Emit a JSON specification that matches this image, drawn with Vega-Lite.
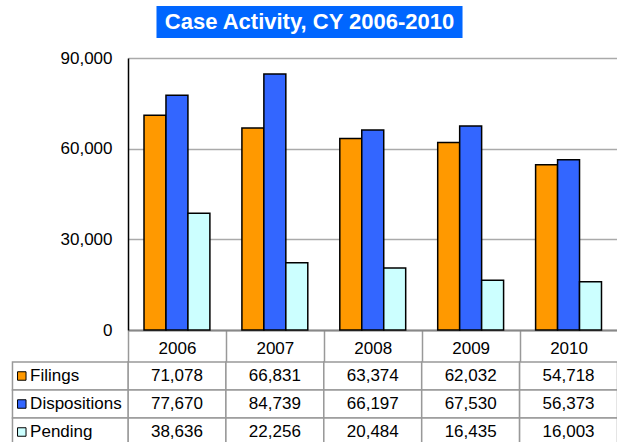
{
  "$schema": "https://vega.github.io/schema/vega-lite/v6.json",
  "padding": {"left": 11, "top": 6, "right": 0, "bottom": 0},
  "background": "white",
  "bounds": "flush",
  "spacing": 20,
  "config": {"view": {"stroke": null}, "font": "Liberation Sans"},
  "datasets": {
    "title": [{"t": "Case Activity, CY 2006-2010"}],
    "series": [{"series": "Filings"}, {"series": "Dispositions"}, {"series": "Pending"}],
    "d": [
      {"series": "Filings", "year": "2006", "value": 71078},
      {"series": "Filings", "year": "2007", "value": 66831},
      {"series": "Filings", "year": "2008", "value": 63374},
      {"series": "Filings", "year": "2009", "value": 62032},
      {"series": "Filings", "year": "2010", "value": 54718},
      {"series": "Dispositions", "year": "2006", "value": 77670},
      {"series": "Dispositions", "year": "2007", "value": 84739},
      {"series": "Dispositions", "year": "2008", "value": 66197},
      {"series": "Dispositions", "year": "2009", "value": 67530},
      {"series": "Dispositions", "year": "2010", "value": 56373},
      {"series": "Pending", "year": "2006", "value": 38636},
      {"series": "Pending", "year": "2007", "value": 22256},
      {"series": "Pending", "year": "2008", "value": 20484},
      {"series": "Pending", "year": "2009", "value": 16435},
      {"series": "Pending", "year": "2010", "value": 16003}
    ]
  },
  "resolve": {"scale": {"x": "independent", "y": "independent", "color": "independent"}},
  "vconcat": [
    {
      "width": 489.5,
      "height": 32,
      "data": {"name": "title"},
      "layer": [
        {
          "mark": {"type": "rect", "color": "#0066ff"},
          "encoding": {
            "x": {"datum": 0.0582, "type": "quantitative", "scale": {"domain": [0, 1], "nice": false, "zero": false}, "axis": null},
            "x2": {"datum": 0.6834}
          }
        },
        {
          "mark": {"type": "text", "color": "white", "fontWeight": "bold", "fontSize": 22, "font": "Liberation Sans", "baseline": "middle"},
          "encoding": {
            "x": {"datum": 0.3708, "type": "quantitative"},
            "text": {"field": "t"}
          }
        }
      ]
    },
    {
      "bounds": "flush",
      "spacing": 32,
      "resolve": {"scale": {"x": "independent", "y": "independent", "color": "independent"}},
      "vconcat": [
        {
          "width": 489.5,
          "height": 272,
          "data": {"name": "d"},
          "mark": {"type": "bar", "stroke": "#000", "strokeWidth": 1.5},
          "encoding": {
            "x": {
              "field": "year", "type": "ordinal",
              "scale": {"paddingInner": 0.327, "paddingOuter": 0.1635},
              "axis": {
                "title": null, "labelAngle": 0, "labelFontSize": 17, "labelColor": "#000", "labelFont": "Liberation Sans",
                "labelBaseline": "middle", "labelPadding": -14, "labelOffset": 48.95,
                "tickSize": 32, "tickColor": "#999", "tickWidth": 1.5, "tickOffset": -48.95,
                "domainColor": "#888", "domainWidth": 2
              }
            },
            "xOffset": {"field": "series", "scale": {"domain": ["Filings", "Dispositions", "Pending"], "paddingInner": 0, "paddingOuter": 0}},
            "y": {
              "field": "value", "type": "quantitative",
              "scale": {"domain": [0, 90000], "nice": false},
              "axis": {
                "title": null, "values": [0, 30000, 60000, 90000], "format": ",d",
                "labelFontSize": 17, "labelColor": "#000", "labelFont": "Liberation Sans", "labelPadding": 16,
                "ticks": false, "domainColor": "#000", "domainWidth": 1.5,
                "gridColor": "#aaa", "gridWidth": 1.5
              }
            },
            "color": {
              "field": "series",
              "scale": {"domain": ["Filings", "Dispositions", "Pending"], "range": ["#ff9900", "#3366ff", "#ccffff"]},
              "legend": null
            }
          }
        },
        {
          "width": 489.5,
          "height": 84,
          "resolve": {"scale": {"x": "independent"}},
          "layer": [
            {
              "data": {"name": "d"},
              "mark": {"type": "rect", "fill": "white", "stroke": "#999", "strokeWidth": 1.5},
              "encoding": {
                "x": {"field": "year", "type": "ordinal", "scale": {"paddingInner": 0, "paddingOuter": 0}, "axis": null},
                "y": {"field": "series", "type": "ordinal", "scale": {"domain": ["Filings", "Dispositions", "Pending"], "paddingInner": 0, "paddingOuter": 0}, "axis": null}
              }
            },
            {
              "data": {"name": "d"},
              "mark": {"type": "text", "fontSize": 17, "font": "Liberation Sans", "color": "#000", "baseline": "middle"},
              "encoding": {
                "x": {"field": "year", "type": "ordinal", "axis": null},
                "y": {"field": "series", "type": "ordinal"},
                "text": {"field": "value", "format": ",d"}
              }
            },
            {
              "data": {"name": "series"},
              "mark": {"type": "rect", "fill": "white", "stroke": "#999", "strokeWidth": 1.5},
              "encoding": {
                "x": {"datum": -0.236, "type": "quantitative", "scale": {"domain": [0, 1], "nice": false, "zero": false}, "axis": null},
                "x2": {"datum": 0},
                "y": {"field": "series", "type": "ordinal"}
              }
            },
            {
              "data": {"name": "series"},
              "mark": {"type": "point", "shape": "square", "size": 72, "filled": true, "opacity": 1, "stroke": "#000", "strokeWidth": 1},
              "encoding": {
                "x": {"datum": -0.217, "type": "quantitative", "scale": {"domain": [0, 1], "nice": false, "zero": false}, "axis": null},
                "y": {"field": "series", "type": "ordinal"},
                "color": {
                  "field": "series",
                  "scale": {"domain": ["Filings", "Dispositions", "Pending"], "range": ["#ff9900", "#3366ff", "#ccffff"]},
                  "legend": null
                }
              }
            },
            {
              "data": {"name": "series"},
              "mark": {"type": "text", "align": "left", "baseline": "middle", "fontSize": 17, "font": "Liberation Sans", "color": "#000"},
              "encoding": {
                "x": {"datum": -0.2, "type": "quantitative", "scale": {"domain": [0, 1], "nice": false, "zero": false}, "axis": null},
                "y": {"field": "series", "type": "ordinal"},
                "text": {"field": "series"}
              }
            }
          ]
        }
      ]
    }
  ]
}
